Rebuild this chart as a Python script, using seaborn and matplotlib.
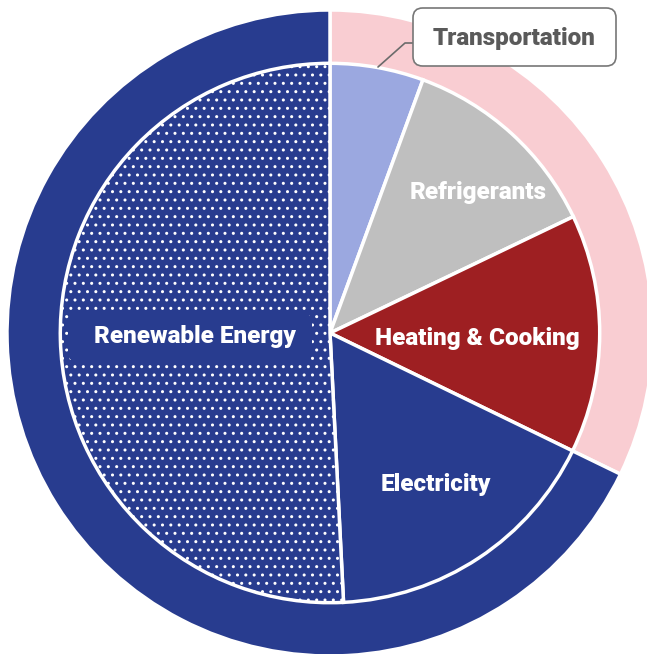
import seaborn as sns
import matplotlib.pyplot as plt
from matplotlib.patches import FancyBboxPatch

# data
inner_labels = ['Transportation', 'Refrigerants', 'Heating & Cooking', 'Electricity', 'Renewable Energy']
inner_values = [5.6, 12.3, 14.3, 17.0, 50.8]
inner_colors = ['#9BA8E0', '#BFBFBF', '#9E1F22', '#283C8F', '#283C8F']
outer_values = [32.2, 67.8]
outer_colors = ['#F9CDD2', '#283C8F']

sns.set_theme(style='white')
plt.rcParams['font.family'] = ['Roboto', 'DejaVu Sans']
plt.rcParams['hatch.linewidth'] = 1.0

fig = plt.figure(figsize=(6.47, 6.54), dpi=100)
ax = fig.add_axes([0, 0, 1, 1])

# outer ring
ax.pie(outer_values, radius=1.0, colors=outer_colors, startangle=90, counterclock=False,
       wedgeprops=dict(width=0.17, edgecolor='white', linewidth=2.5), frame=True)

# inner pie
wedges, _ = ax.pie(inner_values, radius=0.835, colors=inner_colors, startangle=90,
                   counterclock=False, wedgeprops=dict(edgecolor='white', linewidth=2.5), frame=True)
wedges[-1].set_hatch('..')

ax.set_xlim(-330 / 323, (647 - 330) / 323)
ax.set_ylim((333 - 654) / 323, 333 / 323)
ax.axis('off')


def px(x, y):
    return (x - 330) / 323, (333 - y) / 323


def box(x0, y0, x1, y1, **kw):
    (a, b), (c, d) = px(x0, y1), px(x1, y0)
    ax.add_patch(FancyBboxPatch((a, b), c - a, d - b,
                                boxstyle='round,pad=0,rounding_size=0.03', **kw))


font = dict(fontsize=17.5, fontweight='heavy', ha='center', va='center')
ax.text(*px(478, 192), 'Refrigerants', color='white', **font)
ax.text(*px(477, 338), 'Heating & Cooking', color='white', **font)
ax.text(*px(436, 485), 'Electricity', color='white', **font)

box(68, 313, 312, 362, fc='#283C8F', ec='none', zorder=3)
ax.text(*px(195, 336), 'Renewable Energy', color='white', zorder=4, **font)

ax.plot(*zip(px(378, 67), px(405, 43), px(413, 43)), color='#6b6b6b', lw=1.2, zorder=3)
box(413, 8, 616, 66, fc='white', ec='#777777', lw=1.2, zorder=3)
ax.text(*px(514, 38), 'Transportation', color='#5a5a5a', zorder=4, **font)

plt.savefig('out.png', dpi=100)
